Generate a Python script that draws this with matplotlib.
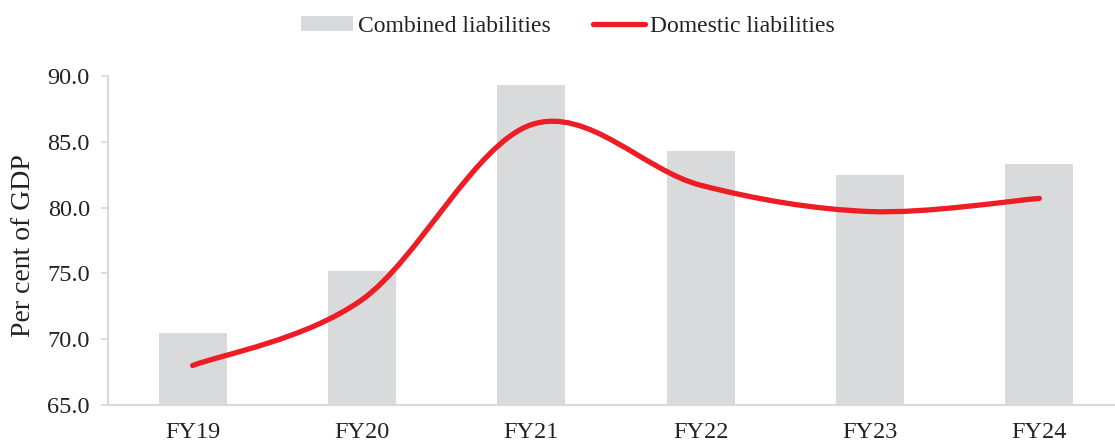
import matplotlib
matplotlib.use("Agg")
import matplotlib.pyplot as plt
from matplotlib.path import Path
from matplotlib.patches import PathPatch, Patch
from matplotlib.lines import Line2D
import numpy as np

categories = ["FY19", "FY20", "FY21", "FY22", "FY23", "FY24"]
combined = [70.5, 75.2, 89.3, 84.3, 82.5, 83.3]
domestic = [68.0, 73.0, 86.3, 81.7, 79.7, 80.7]
yticks = [65.0, 70.0, 75.0, 80.0, 85.0, 90.0]

plt.rcParams['font.family'] = ['Liberation Serif', 'DejaVu Serif']
TXT = '#222222'
GRAY = '#d9dadc'
RED = '#ee1c25'
AXC = '#d9d9d9'

W, H = 1115, 443
fig = plt.figure(figsize=(W / 100, H / 100), dpi=100)
ax = fig.add_axes([108 / W, 38 / H, 1016 / W, 329 / H])

x = np.arange(len(categories))
ax.bar(x, combined, width=0.4, color=GRAY, zorder=1)

# smoothed line (Catmull-Rom style Bezier, as in spreadsheet "smoothed line")
xs = x.astype(float)
ys = np.array(domestic, dtype=float)
n = len(xs)
verts = [(xs[0], ys[0])]
codes = [Path.MOVETO]
for i in range(n - 1):
    p0 = (xs[i - 1], ys[i - 1]) if i > 0 else (xs[i], ys[i])
    p1 = (xs[i], ys[i])
    p2 = (xs[i + 1], ys[i + 1])
    p3 = (xs[i + 2], ys[i + 2]) if i + 2 < n else (xs[i + 1], ys[i + 1])
    c1 = (p1[0] + (p2[0] - p0[0]) / 6, p1[1] + (p2[1] - p0[1]) / 6)
    c2 = (p2[0] - (p3[0] - p1[0]) / 6, p2[1] - (p3[1] - p1[1]) / 6)
    verts += [c1, c2, p2]
    codes += [Path.CURVE4] * 3
path = Path(verts, codes)
ax.add_patch(PathPatch(path, facecolor='none', edgecolor=RED, lw=3.8,
                       capstyle='round', joinstyle='round', zorder=3))

ax.set_xlim(-0.5, n - 0.5)
ax.set_ylim(65, 90)
ax.set_yticks(yticks)
ax.set_yticklabels([f"{v:.1f}" for v in yticks], fontsize=17.5, color=TXT)
ax.set_xticks(x)
ax.set_xticklabels(categories, fontsize=17.5, color=TXT)
ax.tick_params(axis='x', length=0, pad=12.5)
ax.tick_params(axis='y', length=5, width=1.2, color=AXC, pad=8)

for s in ['top', 'right']:
    ax.spines[s].set_visible(False)
for s in ['left', 'bottom']:
    ax.spines[s].set_color(AXC)
    ax.spines[s].set_linewidth(1.5)

ax.set_ylabel("Per cent of GDP", fontsize=20, color=TXT)
ax.yaxis.set_label_coords(-72 / 1016, 0.485)

handles = [Patch(facecolor=GRAY, edgecolor='none'),
           Line2D([0], [0], color=RED, lw=3.8, solid_capstyle='round')]
fig.legend(handles, ["Combined liabilities", "Domestic liabilities"],
           loc='center', bbox_to_anchor=(568 / W, 1 - 26 / H), ncol=2,
           frameon=False, fontsize=17, handlelength=2.2, handleheight=0.58,
           handletextpad=0.2, columnspacing=1.8, labelcolor=TXT,
           borderaxespad=0, borderpad=0)

fig.savefig("out.png", dpi=100)
